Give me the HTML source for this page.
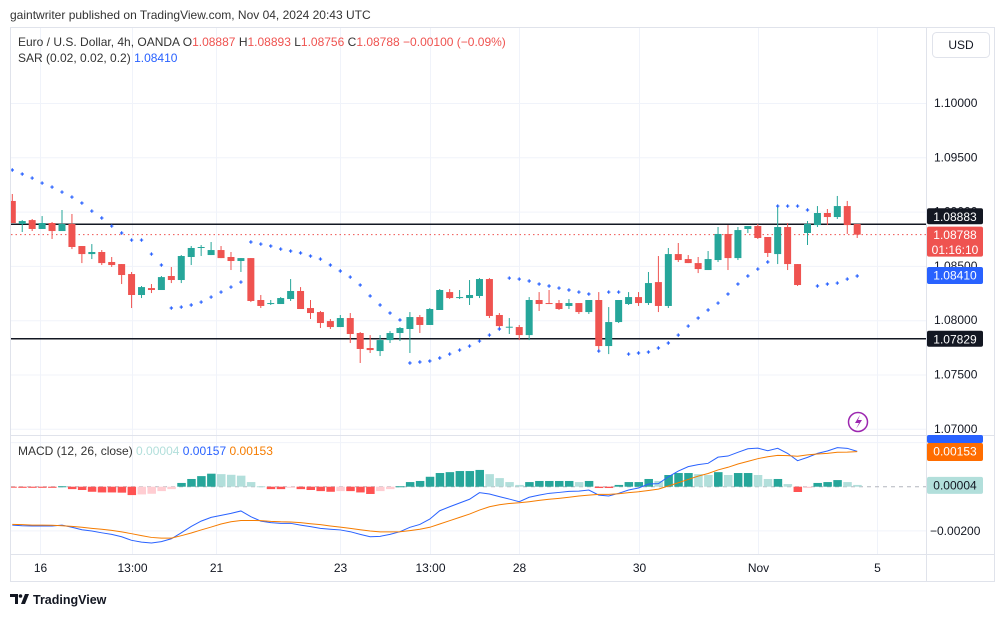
<!DOCTYPE html>
<html><head><meta charset="utf-8"><style>
html,body{margin:0;padding:0;background:#fff;width:1004px;height:617px;overflow:hidden;font-family:"Liberation Sans",sans-serif;}
svg text{font-family:"Liberation Sans",sans-serif;}
</style></head><body>
<svg id="chart" width="1004" height="617" viewBox="0 0 1004 617" xmlns="http://www.w3.org/2000/svg">
<text x="10" y="19" font-size="12" fill="#333">gaintwriter published on TradingView.com, Nov 04, 2024 20:43 UTC</text>
<rect x="10.5" y="27.5" width="984" height="554" fill="#fff" stroke="#e0e3eb"/>
<g id="grid"></g>
<g id="main"></g>
<g id="macd"></g>
<line x1="926.5" y1="27" x2="926.5" y2="581" stroke="#e0e3eb"/>
<line x1="10" y1="435.5" x2="994" y2="435.5" stroke="#e0e3eb"/>
<line x1="10" y1="554.5" x2="994" y2="554.5" stroke="#e0e3eb"/>
<g id="axes"></g>
<g font-size="12">
<text x="18" y="46" fill="#333">Euro / U.S. Dollar, 4h, OANDA <tspan fill="#333">O</tspan><tspan fill="#ef5350">1.08887</tspan> <tspan fill="#333">H</tspan><tspan fill="#ef5350">1.08893</tspan> <tspan fill="#333">L</tspan><tspan fill="#ef5350">1.08756</tspan> <tspan fill="#333">C</tspan><tspan fill="#ef5350">1.08788</tspan> <tspan fill="#ef5350">−0.00100 (−0.09%)</tspan></text>
<text x="18" y="62" fill="#333">SAR (0.02, 0.02, 0.2) <tspan fill="#2962ff">1.08410</tspan></text>
<text x="18" y="455" fill="#333">MACD (12, 26, close) <tspan fill="#b2dfdb">0.00004</tspan> <tspan fill="#2962ff">0.00157</tspan> <tspan fill="#f57c00">0.00153</tspan></text>
</g>
<g><rect x="932.5" y="32.5" width="57" height="25" rx="4" fill="#fff" stroke="#e0e3eb"/><text x="961" y="49" font-size="12" text-anchor="middle" fill="#131722">USD</text></g>
<g><circle cx="858" cy="422" r="9.5" fill="#fff" stroke="#9c27b0" stroke-width="1.5"/><path d="M860 415 L855 423 L859 423 L856 429 L862 420 L858 420 Z" fill="#9c27b0"/></g>
<g><path d="M10 594 h8 v10 h-3 v-7 h-5 z M21 604 l4-10 h4 l-4 10 z" fill="#131722"/><circle cx="20.5" cy="596" r="1.8" fill="#131722"/><text x="33" y="604" font-size="12.5" font-weight="bold" fill="#131722">TradingView</text></g>
</svg>
<script>
const opens=[1.09098,1.08886,1.08922,1.08840,1.08895,1.08821,1.08886,1.08683,1.08609,1.08628,1.08536,1.08517,1.08425,1.08232,1.08296,1.08278,1.08407,1.08370,1.08582,1.08665,1.08600,1.08646,1.08582,1.08545,1.08572,1.08186,1.08149,1.08149,1.08195,1.08269,1.08112,1.08075,1.07992,1.07937,1.08020,1.07882,1.07744,1.07716,1.07817,1.07882,1.07919,1.08029,1.07956,1.08094,1.08259,1.08204,1.08204,1.08223,1.08379,1.08048,1.07937,1.07937,1.07863,1.08186,1.08158,1.08158,1.08131,1.08158,1.08075,1.08186,1.07762,1.07983,1.08149,1.08213,1.08158,1.08351,1.08131,1.08609,1.08563,1.08526,1.08462,1.08554,1.08794,1.08572,1.08840,1.08867,1.08766,1.08609,1.08858,1.08517,1.08803,1.08876,1.08987,1.08950,1.09051,1.08886];
const highs=[1.09162,1.08922,1.08932,1.08959,1.08904,1.09015,1.08978,1.08683,1.08701,1.08646,1.08582,1.08517,1.08444,1.08315,1.08333,1.08407,1.08490,1.08600,1.08683,1.08692,1.08720,1.08683,1.08628,1.08572,1.08572,1.08232,1.08186,1.08213,1.08379,1.08305,1.08186,1.08085,1.08011,1.08048,1.08066,1.07891,1.07863,1.07863,1.07900,1.07937,1.08075,1.08048,1.08112,1.08287,1.08287,1.08278,1.08370,1.08388,1.08388,1.08066,1.08020,1.07956,1.08213,1.08259,1.08278,1.08186,1.08195,1.08158,1.08186,1.08259,1.08121,1.08186,1.08259,1.08259,1.08444,1.08591,1.08665,1.08711,1.08600,1.08582,1.08637,1.08858,1.08876,1.08858,1.08867,1.08886,1.08766,1.09061,1.08895,1.08517,1.08913,1.09051,1.09024,1.09144,1.09098,1.08886];
const lows=[1.08895,1.08812,1.08821,1.08840,1.08748,1.08821,1.08655,1.08526,1.08563,1.08508,1.08490,1.08333,1.08112,1.08204,1.08250,1.08278,1.08342,1.08342,1.08508,1.08591,1.08600,1.08572,1.08462,1.08444,1.08167,1.08112,1.08140,1.08149,1.08177,1.08103,1.08011,1.07928,1.07919,1.07937,1.07790,1.07606,1.07698,1.07670,1.07790,1.07808,1.07698,1.07882,1.07956,1.08094,1.08195,1.08195,1.08140,1.08204,1.08020,1.07919,1.07873,1.07817,1.07817,1.08085,1.08149,1.08094,1.08103,1.08057,1.08057,1.07707,1.07688,1.07974,1.08140,1.08131,1.08140,1.08075,1.08112,1.08536,1.08526,1.08434,1.08462,1.08536,1.08462,1.08554,1.08803,1.08748,1.08582,1.08517,1.08462,1.08315,1.08692,1.08858,1.08876,1.08932,1.08794,1.08757];
const closes=[1.08895,1.08913,1.08840,1.08895,1.08821,1.08886,1.08674,1.08609,1.08628,1.08526,1.08508,1.08416,1.08232,1.08305,1.08278,1.08397,1.08370,1.08591,1.08665,1.08674,1.08646,1.08572,1.08545,1.08572,1.08177,1.08131,1.08158,1.08204,1.08269,1.08103,1.08066,1.07974,1.07937,1.08020,1.07873,1.07735,1.07725,1.07817,1.07882,1.07928,1.08029,1.07956,1.08103,1.08278,1.08204,1.08213,1.08232,1.08379,1.08039,1.07946,1.07940,1.07863,1.08186,1.08149,1.08149,1.08103,1.08158,1.08075,1.08186,1.07762,1.07983,1.08186,1.08213,1.08158,1.08342,1.08131,1.08609,1.08554,1.08526,1.08471,1.08563,1.08794,1.08572,1.08830,1.08867,1.08757,1.08619,1.08858,1.08517,1.08324,1.08886,1.08987,1.08950,1.09051,1.08876,1.08788];
const sar=[1.09383,1.09346,1.09309,1.09263,1.09226,1.09180,1.09134,1.09079,1.09005,1.08941,1.08867,1.08803,1.08738,1.08738,1.08609,1.08508,1.08112,1.08121,1.08140,1.08167,1.08213,1.08259,1.08305,1.08351,1.08720,1.08701,1.08683,1.08655,1.08637,1.08619,1.08591,1.08563,1.08508,1.08453,1.08397,1.08324,1.08223,1.08140,1.08066,1.08002,1.07606,1.07615,1.07624,1.07652,1.07688,1.07725,1.07762,1.07808,1.07863,1.07919,1.08388,1.08379,1.08361,1.08333,1.08315,1.08296,1.08278,1.08259,1.08241,1.07716,1.08259,1.08259,1.07688,1.07698,1.07707,1.07744,1.07790,1.07863,1.07946,1.08020,1.08094,1.08158,1.08241,1.08333,1.08407,1.08471,1.08536,1.09051,1.09051,1.09051,1.09015,1.08315,1.08333,1.08342,1.08379,1.08407];
const macdLine=[-0.00174,-0.00177,-0.00178,-0.00178,-0.00178,-0.00174,-0.00184,-0.00195,-0.00201,-0.00209,-0.00216,-0.00227,-0.00243,-0.00251,-0.00255,-0.00249,-0.00236,-0.00209,-0.00180,-0.00156,-0.00139,-0.00130,-0.00121,-0.00110,-0.00136,-0.00156,-0.00163,-0.00166,-0.00166,-0.00174,-0.00181,-0.00189,-0.00193,-0.00196,-0.00204,-0.00216,-0.00227,-0.00225,-0.00216,-0.00204,-0.00184,-0.00171,-0.00147,-0.00109,-0.00091,-0.00074,-0.00057,-0.00027,-0.00033,-0.00045,-0.00056,-0.00068,-0.00048,-0.00038,-0.00030,-0.00026,-0.00021,-0.00020,-0.00015,-0.00038,-0.00042,-0.00030,-0.00015,-0.00006,0.00012,0.00014,0.00045,0.00071,0.00091,0.00100,0.00106,0.00134,0.00139,0.00156,0.00172,0.00175,0.00163,0.00174,0.00151,0.00118,0.00133,0.00151,0.00162,0.00177,0.00174,0.00160];
const signalLine=[-0.00171,-0.00172,-0.00174,-0.00174,-0.00175,-0.00177,-0.00180,-0.00184,-0.00189,-0.00193,-0.00198,-0.00205,-0.00213,-0.00222,-0.00230,-0.00233,-0.00233,-0.00222,-0.00210,-0.00196,-0.00183,-0.00169,-0.00159,-0.00153,-0.00153,-0.00154,-0.00157,-0.00159,-0.00160,-0.00163,-0.00168,-0.00172,-0.00178,-0.00183,-0.00189,-0.00195,-0.00201,-0.00205,-0.00205,-0.00204,-0.00199,-0.00193,-0.00184,-0.00169,-0.00154,-0.00139,-0.00124,-0.00106,-0.00091,-0.00082,-0.00076,-0.00073,-0.00068,-0.00062,-0.00057,-0.00053,-0.00048,-0.00042,-0.00038,-0.00035,-0.00035,-0.00032,-0.00027,-0.00023,-0.00017,-0.00011,0.00003,0.00018,0.00033,0.00048,0.00060,0.00076,0.00088,0.00103,0.00115,0.00127,0.00136,0.00142,0.00141,0.00138,0.00144,0.00148,0.00151,0.00156,0.00157,0.00159];
const histogram=[-0.00003,-0.00005,-0.00005,-0.00005,-0.00005,0.00002,-0.00011,-0.00015,-0.00023,-0.00026,-0.00026,-0.00027,-0.00038,-0.00035,-0.00032,-0.00020,-0.00011,0.00017,0.00035,0.00048,0.00059,0.00057,0.00054,0.00050,0.00021,0.00002,-0.00011,-0.00011,-0.00005,-0.00011,-0.00015,-0.00020,-0.00023,-0.00020,-0.00020,-0.00026,-0.00033,-0.00020,-0.00011,0.00002,0.00021,0.00026,0.00045,0.00062,0.00066,0.00071,0.00071,0.00076,0.00057,0.00039,0.00021,0.00008,0.00021,0.00026,0.00026,0.00026,0.00026,0.00021,0.00026,-0.00006,-0.00006,0.00008,0.00021,0.00021,0.00035,0.00026,0.00053,0.00062,0.00062,0.00057,0.00053,0.00066,0.00053,0.00062,0.00062,0.00053,0.00035,0.00035,0.00012,-0.00024,-0.00006,0.00017,0.00021,0.00030,0.00021,0.00008];
const priceTicks=[1.10000,1.09500,1.09000,1.08500,1.08000,1.07500,1.07000];
const priceTickLabels=["1.10000","1.09500","1.09000","1.08500","1.08000","1.07500","1.07000"];
const macdTicks=[-0.002];
const macdTickLabels=["−0.00200"];
const timeIdx=[2.8,12,20.5,33,42,51,63,75,87];
const timeLabels=["16","13:00","21","23","13:00","28","30","Nov","5"];
const hLevels=[1.08883,1.07829];

const NS="http://www.w3.org/2000/svg";
const X=i=>12.3+9.94*i;
const Y=p=>103+(1.1-p)*10860;
const MY=v=>486.7-v*22060;
function mk(tag,attrs,parent){const e=document.createElementNS(NS,tag);for(const k in attrs)e.setAttribute(k,attrs[k]);parent.appendChild(e);return e;}
const svg=document.getElementById('chart');
const defs=mk('defs',{},svg);
const c1=mk('clipPath',{id:'cm'},defs);mk('rect',{x:11,y:28,width:915,height:407},c1);
const c2=mk('clipPath',{id:'cd'},defs);mk('rect',{x:11,y:436,width:915,height:118},c2);
const grid=document.getElementById('grid');
const main=document.getElementById('main');main.setAttribute('clip-path','url(#cm)');
const macd=document.getElementById('macd');macd.setAttribute('clip-path','url(#cd)');
const axes=document.getElementById('axes');

priceTicks.forEach((p,k)=>{
  const g=mk('line',{x1:11,x2:926,y1:Y(p)+.5,y2:Y(p)+.5,stroke:'#f0f3fa'},grid);
  
  
  const t=mk('text',{x:934,y:Y(p)+4,'font-size':12,fill:'#131722'},axes);t.textContent=priceTickLabels[k];
  
  
});
macdTicks.forEach((v,k)=>{
  const g=mk('line',{x1:11,x2:926,y1:MY(v),y2:MY(v),stroke:'#f0f3fa'},grid);
  
  
  const t=mk('text',{x:930,y:MY(v)+4,'font-size':12,fill:'#131722'},axes);t.textContent=macdTickLabels[k];
  
  
});
mk('line',{x1:11,x2:926,y1:MY(0.002),y2:MY(0.002),stroke:'#f0f3fa'},grid);
timeIdx.forEach((ti,k)=>{
  const x=Math.round(X(ti))+.5;
  const g=mk('line',{x1:x,x2:x,y1:28,y2:554,stroke:'#f0f3fa'},grid);
  
  
  const t=mk('text',{x:x,y:572,'font-size':12,fill:'#131722','text-anchor':'middle'},axes);t.textContent=timeLabels[k];
  
  
});
// horizontal levels
hLevels.forEach(p=>{
  const l=mk('line',{x1:11,x2:926,y1:Y(p),y2:Y(p),stroke:'#131722','stroke-width':1.5},main);
  
  
});
const last=closes[closes.length-1];
const dl=mk('line',{x1:11,x2:926,y1:Y(last),y2:Y(last),stroke:'#ef5350','stroke-dasharray':'1.5 3'},main);


// candles
for(let i=0;i<opens.length;i++){
  const up=closes[i]>=opens[i];const col=up?'#26a69a':'#ef5350';const x=X(i);
  const w=mk('line',{x1:x,x2:x,y1:Y(highs[i]),y2:Y(lows[i]),stroke:col,'stroke-width':1},main);
  
  
  const top=Math.min(Y(opens[i]),Y(closes[i]));const h=Math.max(1,Math.abs(Y(opens[i])-Y(closes[i])));
  const b=mk('rect',{x:x-3.5,y:top,width:7,height:h,fill:col},main);
  
  
}
// SAR
sar.forEach((s,i)=>{
  const x=X(i),y=Y(s);
  const d=mk('path',{d:`M${x-1.7} ${y}h3.4M${x} ${y-1.7}v3.4`,stroke:'#2962ff','stroke-width':1.2},main);
  
  
});
// MACD
const z=mk('line',{x1:11,x2:926,y1:MY(0),y2:MY(0),stroke:'#b2b5be','stroke-dasharray':'4 4'},macd);


histogram.forEach((v,i)=>{
  const prev=i>0?histogram[i-1]:v;
  const col=v>=0?(v>=prev?'#26a69a':'#b2dfdb'):(v<=prev?'#ff5252':'#ffcdd2');
  const y0=MY(0),y1=MY(v);
  const r=mk('rect',{x:X(i)-4,y:Math.min(y0,y1),width:8.5,height:Math.max(1,Math.abs(y1-y0)),fill:col},macd);
  
  
});
const ml=mk('polyline',{points:macdLine.map((v,i)=>X(i)+','+MY(v)).join(' '),fill:'none',stroke:'#2962ff','stroke-width':1},macd);


const sl=mk('polyline',{points:signalLine.map((v,i)=>X(i)+','+MY(v)).join(' '),fill:'none',stroke:'#f57c00','stroke-width':1},macd);



// axis badges
function badge(y,h,bg,fg,lines,name){
  const g=mk('g',{},axes);
  
  
  mk('rect',{x:927,y:y,width:56,height:h,fill:bg,rx:2},g);
  lines.forEach((s,k)=>{const t=mk('text',{x:955,y:y+12.5+k*15,'font-size':12,'text-anchor':'middle',fill:fg},g);t.textContent=s;});
}
badge(Y(hLevels[0])-16,16,'#131722','#fff',['1.08883'],'level-label-upper');
badge(Y(last)-8,30,'#ef5350','#fff',['1.08788','01:16:10'],'last-price-label');
badge(Y(sar[sar.length-1])-9,17,'#2962ff','#fff',['1.08410'],'sar-label');
badge(Y(hLevels[1])-8,16,'#131722','#fff',['1.07829'],'level-label-lower');
badge(435,8,'#2962ff','#fff',[],'macd-value-label');
badge(443,18,'#ff6d00','#fff',['0.00153'],'signal-value-label');
badge(MY(0.00004)-9,17,'#b2dfdb','#131722',['0.00004'],'histogram-value-label');
</script>
</body></html>
